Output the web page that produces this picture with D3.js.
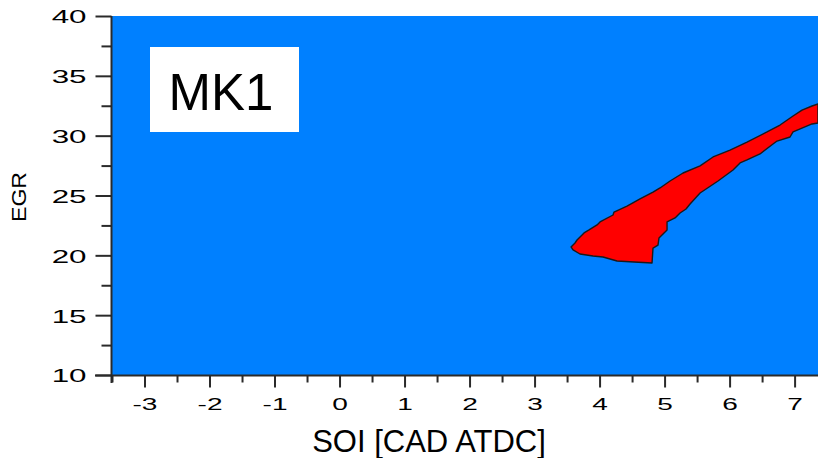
<!DOCTYPE html>
<html>
<head>
<meta charset="utf-8">
<script src="https://cdn.jsdelivr.net/npm/d3@7"></script>
<style>
  html, body { margin: 0; padding: 0; background: #fff; }
  svg { display: block; font-family: "Liberation Sans", Arial, sans-serif; }
</style>
</head>
<body>
<svg id="chart" width="818" height="458"></svg>
<script>
// Axis ranges and tick values
const xDomain = [-3.5, 7.36];
const yDomain = [10, 40];
const xMajorTicks = [-3, -2, -1, 0, 1, 2, 3, 4, 5, 6, 7];
const xMinorTicks = [-3.5, -2.5, -1.5, -0.5, 0.5, 1.5, 2.5, 3.5, 4.5, 5.5, 6.5];
const yMajorTicks = [10, 15, 20, 25, 30, 35, 40];
const yMinorTicks = [12.5, 17.5, 22.5, 27.5, 32.5, 37.5];

// Region boundary (SOI, EGR) of the highlighted zone, traced clockwise
const regionSOI = [
  3.561, 3.622, 3.653, 3.715, 3.761, 3.838, 3.961, 4.007, 4.207, 4.222, 4.422, 4.622,
  4.822, 4.930, 5.084, 5.284, 5.546, 5.746, 6.007, 6.268, 6.576, 6.776, 6.976, 7.114,
  7.268, 7.360, 7.360,
  7.268, 6.976, 6.930, 6.730, 6.668, 6.468, 6.268, 6.161, 6.053, 5.822, 5.546, 5.392,
  5.330, 5.238, 5.161, 5.038, 5.038, 4.914, 4.899, 4.822, 4.807, 4.530, 4.269, 4.053,
  3.899, 3.699, 3.592
];
const regionEGR = [
  20.70, 21.03, 21.28, 21.62, 21.87, 22.12, 22.54, 22.79, 23.37, 23.62, 24.12, 24.71,
  25.29, 25.63, 26.21, 26.88, 27.47, 28.22, 28.80, 29.47, 30.31, 30.89, 31.64, 32.14,
  32.48, 32.65, 31.06,
  30.98, 30.31, 29.89, 29.55, 29.30, 28.47, 27.97, 27.72, 27.13, 26.21, 25.21, 24.29,
  23.87, 23.54, 23.12, 22.79, 22.12, 21.45, 20.86, 20.61, 19.36, 19.44, 19.53, 19.86,
  19.94, 20.11, 20.45
];

const panelLabel = "MK1";
const xTitle = "SOI [CAD ATDC]";
const yTitle = "EGR";

const svg = d3.select("#chart");
const plot = { left: 112, right: 818, top: 16, bottom: 375 };

const x = d3.scaleLinear().domain(xDomain).range([plot.left, plot.right]);
const y = d3.scaleLinear().domain(yDomain).range([plot.bottom, plot.top]);

svg.append("defs").append("clipPath").attr("id", "plotClip")
  .append("rect")
  .attr("x", plot.left).attr("y", plot.top)
  .attr("width", plot.right - plot.left).attr("height", plot.bottom - plot.top);

// Background field
svg.append("rect")
  .attr("x", plot.left).attr("y", plot.top)
  .attr("width", plot.right - plot.left).attr("height", plot.bottom - plot.top)
  .attr("fill", "#0080ff");

// Highlighted region
const pts = regionSOI.map((s, i) => [x(s), y(regionEGR[i])]);
svg.append("g").attr("clip-path", "url(#plotClip)")
  .append("path")
  .attr("d", d3.line().curve(d3.curveLinearClosed)(pts))
  .attr("fill", "#ff0000")
  .attr("stroke", "#1a1a1a")
  .attr("stroke-width", 1.4)
  .attr("stroke-linejoin", "round");

// Panel label box
const box = svg.append("g");
box.append("rect")
  .attr("x", 150).attr("y", 47).attr("width", 149).attr("height", 85)
  .attr("fill", "#fff");
box.append("text")
  .attr("x", 221).attr("y", 110)
  .attr("text-anchor", "middle")
  .attr("font-size", 51)
  .attr("fill", "#000")
  .text(panelLabel);

const axisColor = "#2a2a2a";

// Y axis: major ticks with labels, minor ticks without
const yScaleX = 1.65;
const yAxisMajor = svg.append("g")
  .attr("transform", `translate(${plot.left - 0.5},0)`)
  .call(d3.axisLeft(y).tickValues(yMajorTicks).tickSize(16).tickPadding(0).tickSizeOuter(0));
const yAxisMinor = svg.append("g")
  .attr("transform", `translate(${plot.left - 0.5},0)`)
  .call(d3.axisLeft(y).tickValues(yMinorTicks).tickSize(10).tickFormat("").tickSizeOuter(0));
[yAxisMajor, yAxisMinor].forEach(g => {
  g.select(".domain").attr("stroke", axisColor).attr("stroke-width", 2);
  g.selectAll(".tick line").attr("stroke", axisColor).attr("stroke-width", 2);
});
yAxisMajor.select(".domain").attr("d", `M0,${plot.top}V${plot.bottom + 8}`);
yAxisMinor.select(".domain").remove();
yAxisMajor.selectAll(".tick text")
  .attr("x", -25 / yScaleX)
  .attr("dy", "0.36em")
  .attr("transform", `scale(${yScaleX},1)`)
  .attr("font-size", 19)
  .attr("font-family", "Liberation Sans, Arial, sans-serif")
  .attr("fill", "#000");

// X axis: major ticks with labels, minor ticks without
const xScaleX = 1.65;
const xAxisMajor = svg.append("g")
  .attr("transform", `translate(0,${plot.bottom + 0.5})`)
  .call(d3.axisBottom(x).tickValues(xMajorTicks).tickSize(12).tickPadding(0).tickSizeOuter(0)
    .tickFormat(d => d < 0 ? "-" + Math.abs(d) : String(d)));
const xAxisMinor = svg.append("g")
  .attr("transform", `translate(0,${plot.bottom + 0.5})`)
  .call(d3.axisBottom(x).tickValues(xMinorTicks).tickSize(7).tickFormat("").tickSizeOuter(0));
[xAxisMajor, xAxisMinor].forEach(g => {
  g.select(".domain").attr("stroke", axisColor).attr("stroke-width", 2);
  g.selectAll(".tick line").attr("stroke", axisColor).attr("stroke-width", 2);
});
xAxisMajor.select(".domain").attr("d", `M${plot.left - 17},0H${plot.right}`);
xAxisMinor.select(".domain").remove();
xAxisMajor.selectAll(".tick text")
  .attr("y", 35)
  .attr("dy", 0)
  .attr("transform", `scale(${xScaleX},1)`)
  .attr("font-size", 17)
  .attr("font-family", "Liberation Sans, Arial, sans-serif")
  .attr("fill", "#000");

// Axis titles
svg.append("text")
  .attr("x", 429).attr("y", 452)
  .attr("text-anchor", "middle")
  .attr("font-size", 31)
  .attr("fill", "#000")
  .text(xTitle);

svg.append("text")
  .attr("transform", "translate(26,197) rotate(-90) scale(1.1,1)")
  .attr("text-anchor", "middle")
  .attr("font-size", 21)
  .attr("fill", "#000")
  .text(yTitle);
</script>
</body>
</html>
